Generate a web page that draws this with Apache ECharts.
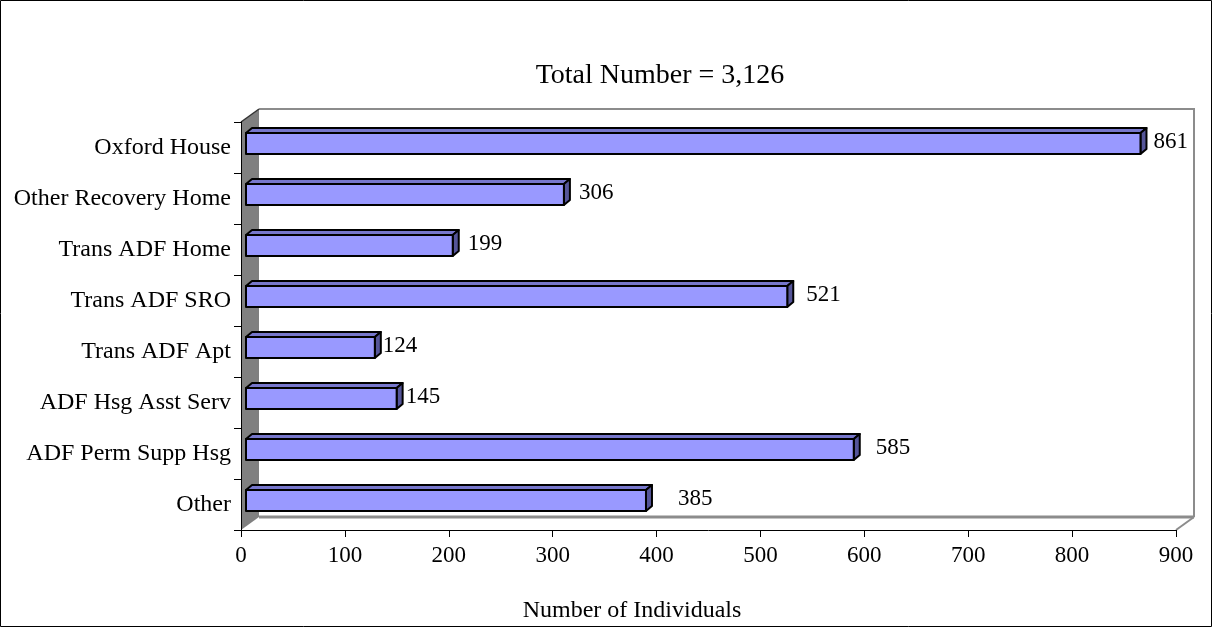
<!DOCTYPE html>
<html>
<head>
<meta charset="utf-8">
<script src="https://cdn.jsdelivr.net/npm/echarts@6/dist/echarts.min.js"></script>
<style>
  html, body { margin: 0; padding: 0; background: #fff; }
  #chart { width: 1213px; height: 628px; }
</style>
</head>
<body>
<div id="chart"></div>
<script>
// Housing types and number of individuals in each
const categories = [
  'Oxford House', 'Other Recovery Home', 'Trans ADF Home', 'Trans ADF SRO',
  'Trans ADF Apt', 'ADF Hsg Asst Serv', 'ADF Perm Supp Hsg', 'Other'
];
const individuals = [861, 306, 199, 521, 124, 145, 585, 385];
const xTicks = [0, 100, 200, 300, 400, 500, 600, 700, 800, 900];
const titleText = 'Total Number = 3,126';
const axisTitle = 'Number of Individuals';

// Extra space between each bar end and its value label (px)
const labelGap = [7, 9, 9, 13, 2, 3, 16, 26];

const FONT = "'Liberation Serif', 'Times New Roman', serif";

// Plot box (front plane) and depth of the 3D walls
const plot = { left: 241, right: 1176, top: 122, bottom: 530 };
const wallDx = 18, wallDy = 13;

// Bar geometry
const barH = 21;       // front face height
const barDx = 6, barDy = 5;  // bar depth
const barShiftX = 5, barShiftY = -4;

const chart = echarts.init(document.getElementById('chart'), null, { renderer: 'canvas' });

function renderBar(params, api) {
  const idx = api.value(1);
  const v = api.value(0);
  const p0 = api.coord([0, idx]);
  const p1 = api.coord([v, idx]);
  const x0 = p0[0] + barShiftX;
  const x1 = p1[0] + barShiftX;
  const yc = p0[1] + barShiftY;
  const yt = yc - barH / 2;
  const yb = yc + barH / 2;
  const edge = { stroke: '#000', lineWidth: 2, lineJoin: 'round' };
  return {
    type: 'group',
    children: [
      {
        type: 'polygon',
        shape: { points: [[x0, yt], [x0 + barDx, yt - barDy], [x1 + barDx, yt - barDy], [x1, yt]] },
        style: Object.assign({ fill: '#7777cc' }, edge)
      },
      {
        type: 'polygon',
        shape: { points: [[x1, yt], [x1 + barDx, yt - barDy], [x1 + barDx, yb - barDy], [x1, yb]] },
        style: Object.assign({ fill: '#555599' }, edge)
      },
      {
        type: 'rect',
        shape: { x: x0, y: yt, width: x1 - x0, height: barH },
        style: Object.assign({ fill: '#9999ff' }, edge)
      },
      {
        type: 'text',
        style: {
          x: x1 + barDx + labelGap[params.dataIndex],
          y: yc - 2,
          text: String(v),
          font: '23px ' + FONT,
          fill: '#000',
          verticalAlign: 'middle',
          align: 'left'
        }
      }
    ]
  };
}

const bl = plot.left, br = plot.right, bt = plot.top, bb = plot.bottom;

const option = {
  animation: false,
  backgroundColor: '#fff',
  title: [
    {
      text: titleText,
      left: 655, top: 57, textAlign: 'center',
      textStyle: { fontFamily: FONT, fontSize: 28, fontWeight: 'normal', color: '#000' }
    },
    {
      text: axisTitle,
      left: 627, top: 594, textAlign: 'center',
      textStyle: { fontFamily: FONT, fontSize: 24, fontWeight: 'normal', color: '#000' }
    }
  ],
  grid: {
    left: plot.left, right: 1213 - plot.right, top: plot.top, bottom: 628 - plot.bottom,
    containLabel: false
  },
  xAxis: {
    type: 'value', min: 0, max: 900, interval: 100,
    axisLine: { show: true, lineStyle: { color: '#000', width: 1 } },
    axisTick: { show: true, length: 7, lineStyle: { color: '#000' } },
    splitLine: { show: false },
    axisLabel: {
      margin: 14, fontFamily: FONT, fontSize: 23, color: '#000',
      formatter: function (val) { return xTicks.indexOf(val) >= 0 ? String(val) : ''; }
    }
  },
  yAxis: {
    type: 'category', data: categories, inverse: true,
    axisLine: { show: true, lineStyle: { color: '#000', width: 1 } },
    axisTick: { show: true, length: 7, lineStyle: { color: '#000' } },
    axisLabel: { margin: 10, fontFamily: FONT, fontSize: 24, color: '#000' },
    splitLine: { show: false }
  },
  graphic: [
    // outer frame
    { type: 'rect', z: 100, shape: { x: 0.5, y: 0.5, width: 1211, height: 626 },
      style: { fill: 'none', stroke: '#000', lineWidth: 1 } },
    // left side wall
    { type: 'polygon', z: -1,
      shape: { points: [[bl, bb], [bl, bt], [bl + wallDx, bt - wallDy], [bl + wallDx, bb - wallDy]] },
      style: { fill: '#808080' } },
    // back wall outline
    { type: 'polyline', z: -1,
      shape: { points: [[bl + wallDx, bt - wallDy], [br + wallDx, bt - wallDy], [br + wallDx, bb - wallDy]] },
      style: { fill: 'none', stroke: '#8c8c8c', lineWidth: 2 } },
    // floor back edge
    { type: 'line', z: -1,
      shape: { x1: bl + wallDx, y1: bb - wallDy, x2: br + wallDx, y2: bb - wallDy },
      style: { stroke: '#8c8c8c', lineWidth: 3 } },
    // floor right edge
    { type: 'line', z: -1,
      shape: { x1: br, y1: bb, x2: br + wallDx, y2: bb - wallDy },
      style: { stroke: '#8c8c8c', lineWidth: 2 } },
    // side wall top edge
    { type: 'line', z: -1,
      shape: { x1: bl, y1: bt, x2: bl + wallDx, y2: bt - wallDy },
      style: { stroke: '#333', lineWidth: 1.5 } }
  ],
  series: [
    {
      type: 'custom',
      renderItem: renderBar,
      encode: { x: 0, y: 1 },
      data: individuals.map(function (v, i) { return [v, i]; }),
      z: 5
    }
  ]
};

chart.setOption(option);
</script>
</body>
</html>
